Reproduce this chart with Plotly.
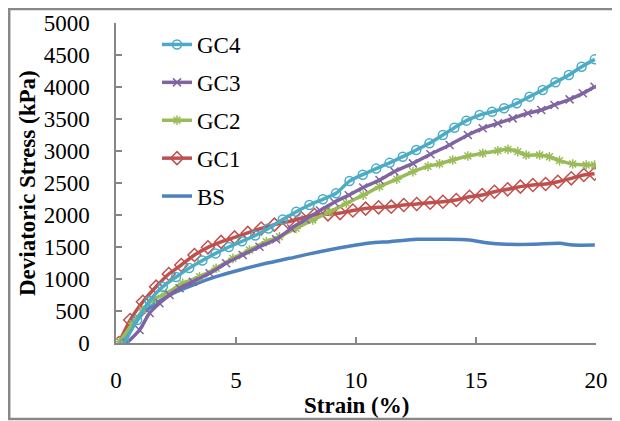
import plotly.graph_objects as go

# ---- data ----
bs_strain = [0.28, 0.7, 1.12, 1.67, 2.37, 3.2, 4.17, 5.15, 6.26, 7.23, 8.48, 10.01, 10.7, 11.4,
             12.51, 13.62, 14.73, 15.42, 16.26, 17.37, 18.48, 19.03, 19.95]
bs_stress = [0, 255, 464, 620, 776, 906, 1036, 1141, 1245, 1323, 1427, 1531, 1567, 1583,
             1620, 1620, 1609, 1567, 1542, 1542, 1557, 1531, 1531]

gc1_strain = [0.12, 0.59, 1.12, 1.67, 2.2, 2.72, 3.27, 3.83, 4.38, 4.94, 5.49, 6.05, 6.6, 7.16,
              7.72, 8.27, 8.83, 9.34, 9.87, 10.4, 10.94, 11.47, 11.99, 12.53, 13.09, 13.62,
              14.18, 14.73, 15.26, 15.77, 16.32, 16.85, 17.37, 17.9, 18.41, 18.97, 19.49, 19.94]
gc1_stress = [0, 359, 645, 880, 1078, 1219, 1375, 1495, 1580, 1650, 1720, 1790, 1850, 1895,
              1950, 2000, 2010, 2030, 2070, 2100, 2120, 2130, 2156, 2172, 2192, 2208,
              2234, 2286, 2312, 2364, 2401, 2443, 2469, 2484, 2520, 2573, 2625, 2645]

gc2_strain = [0.15, 0.7, 1.12, 1.53, 2.09, 2.78, 3.48, 4.17, 4.87, 5.56, 6.26, 6.81, 7.5, 8.2,
              8.9, 9.6, 10.3, 10.98, 11.7, 12.37, 13.0, 13.48, 14.03, 14.66, 15.28, 15.91,
              16.33, 16.74, 17.09, 17.65, 18.06, 18.48, 19.03, 19.59, 19.94]
gc2_stress = [20, 307, 515, 672, 776, 932, 1036, 1167, 1323, 1453, 1583, 1661, 1790, 1922,
              2050, 2182, 2310, 2443, 2560, 2677, 2760, 2800, 2859, 2922, 2964, 3005,
              3026, 2990, 2937, 2937, 2911, 2849, 2797, 2781, 2781]

gc3_strain = [0.45, 0.98, 1.4, 1.81, 2.23, 2.65, 3.2, 3.9, 4.59, 5.28, 5.98, 6.67, 7.3, 7.9,
              8.5, 9.1, 9.7, 10.3, 10.98, 11.6, 12.37, 13.1, 13.9, 14.66, 15.28, 15.91,
              16.53, 17.16, 17.72, 18.27, 18.9, 19.45, 19.94]
gc3_stress = [0, 203, 469, 620, 750, 854, 958, 1089, 1245, 1375, 1505, 1620, 1790, 1930,
              2070, 2200, 2310, 2430, 2547, 2680, 2807, 2950, 3094, 3250, 3354, 3432,
              3510, 3589, 3641, 3719, 3807, 3901, 4005]

gc4_strain = [0.35, 0.88, 1.4, 1.95, 2.5, 3.05, 3.6, 4.15, 4.7, 5.25, 5.8, 6.35, 6.95, 7.51,
              8.06, 8.62, 9.17, 9.73, 10.28, 10.84, 11.4, 11.95, 12.51, 13.06, 13.62, 14.1,
              14.6, 15.15, 15.67, 16.17, 16.7, 17.23, 17.78, 18.31, 18.87, 19.4, 19.95]
gc4_stress = [0, 360, 660, 880, 1030, 1170, 1290, 1400, 1500, 1590, 1680, 1790, 1930, 2052,
              2156, 2245, 2339, 2530, 2630, 2725, 2815, 2911, 3016, 3120, 3250, 3364,
              3474, 3562, 3614, 3667, 3745, 3849, 3953, 4073, 4187, 4317, 4432]

x_ticks = [0, 5, 10, 15, 20]
y_ticks = [0, 500, 1000, 1500, 2000, 2500, 3000, 3500, 4000, 4500, 5000]

FONT = "Liberation Serif"

series = [
    ("BS", bs_strain, bs_stress, "#4F81BD", None, 5, 0),
    ("GC1", gc1_strain, gc1_stress, "#C0504D", "diamond-open", 4, 10),
    ("GC2", gc2_strain, gc2_stress, "#9BBB59", "asterisk-open", 3, 8),
    ("GC3", gc3_strain, gc3_stress, "#8064A2", "x-thin-open", 2, 8),
    ("GC4", gc4_strain, gc4_stress, "#4BACC6", "circle-open", 1, 9),
]

fig = go.Figure()
for name, xs, ys, col, sym, rank, msize in series:
    kw = dict(x=xs, y=ys, name=name, legendgroup=name, legendrank=rank,
              line=dict(color=col, width=3.5, shape="spline", smoothing=0.8))
    if sym:
        kw["mode"] = "lines+markers"
        kw["marker"] = dict(symbol=sym, size=msize, color=col, line=dict(color=col, width=1.5))
    else:
        kw["mode"] = "lines"
    fig.add_trace(go.Scatter(**kw))

axis_common = dict(
    showgrid=False, zeroline=False, showline=True, linecolor="#868686", linewidth=1.5,
    ticks="inside", ticklen=6, tickcolor="#868686", tickwidth=1.5, automargin=False,
    tickfont=dict(family=FONT, size=23, color="black"),
)
fig.update_xaxes(range=[0, 20], tickvals=x_ticks, ticklabelstandoff=16, **axis_common)
fig.update_yaxes(range=[0, 5000], tickvals=y_ticks, ticklabelstandoff=20, **axis_common)

fig.update_layout(
    width=612, height=413,
    margin=dict(l=108, r=24, t=15, b=78),
    paper_bgcolor="white", plot_bgcolor="white",
    showlegend=True,
    legend=dict(x=0.0854, y=1.0, xanchor="left", yanchor="top",
                traceorder="grouped", tracegroupgap=5,
                font=dict(family=FONT, size=23, color="black"),
                bgcolor="rgba(0,0,0,0)"),
    annotations=[
        dict(text="<b>Deviatoric Stress (kPa)</b>", xref="paper", yref="paper",
             x=-0.1854, y=0.5, xanchor="center", yanchor="middle",
             textangle=-90, showarrow=False,
             font=dict(family=FONT, size=23, color="black")),
        dict(text="<b>Strain (%)</b>", xref="paper", yref="paper",
             x=0.5, y=-0.194, xanchor="center", yanchor="middle", showarrow=False,
             font=dict(family=FONT, size=23, color="black")),
    ],
    shapes=[
        dict(type="rect", xref="paper", yref="paper",
             x0=-0.2225, x1=1.08, y0=-0.2375, y1=1.044,
             line=dict(color="#888888", width=2.5)),
    ],
)

fig.write_html("out.html")
